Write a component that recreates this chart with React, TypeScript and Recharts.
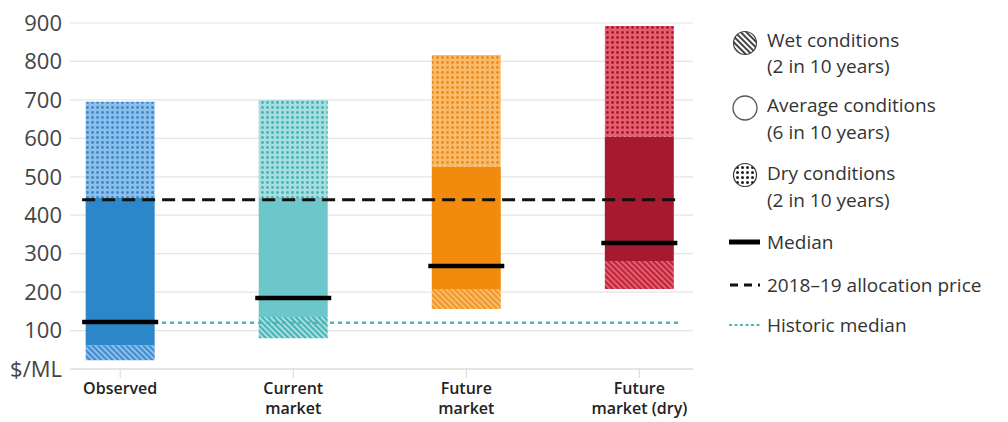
import React from "react";
import {
  ComposedChart,
  Bar,
  Cell,
  XAxis,
  YAxis,
  CartesianGrid,
  Scatter,
  ReferenceLine,
} from "recharts";

// ---------- data ----------
const categoryLines: string[][] = [
  ["Observed"],
  ["Current", "market"],
  ["Future", "market"],
  ["Future", "market (dry)"],
];
const lowValues = [23, 80, 156, 208]; // bottom of wet range
const wetTopValues = [62, 135, 208, 281]; // wet / average boundary
const avgTopValues = [445, 445, 526, 604]; // average / dry boundary
const highValues = [695, 700, 817, 892]; // top of dry range
const medianValues = [122, 185, 268, 328];
const allocationPrice = 440;
const historicMedian = 120;
const yTicks = [0, 100, 200, 300, 400, 500, 600, 700, 800, 900];

// ---------- styles ----------
const solidColors = ["#2B87C8", "#6DC6CA", "#F28A0E", "#A6192F"];
const lightColors = ["#8DBFEB", "#A9DEE1", "#F9BC6C", "#E4606F"];
const dotColors = ["#3A88CC", "#43B3B8", "#EE8A1A", "#A8172E"];
const stripeColors = ["#3F8CD0", "#45B3B8", "#F29626", "#C0243C"];
const FONT = "'Open Sans', 'Noto Sans', sans-serif";

const data = categoryLines.map((_, i) => ({
  idx: i,
  base: lowValues[i],
  wet: wetTopValues[i] - lowValues[i],
  avg: avgTopValues[i] - wetTopValues[i],
  dry: highValues[i] - avgTopValues[i],
  median: medianValues[i],
}));

const lineStart = 0 - 0.22;
const lineEnd = categoryLines.length - 1 + 0.23;

const Patterns = () => (
  <svg width={0} height={0} style={{ position: "absolute" }}>
    <defs>
      {solidColors.map((_, i) => (
        <pattern
          key={"h" + i}
          id={"hatch-" + i}
          patternUnits="userSpaceOnUse"
          width={4}
          height={4}
          patternTransform="rotate(-45)"
        >
          <rect width={4} height={4} fill={lightColors[i]} />
          <rect width={2} height={4} fill={stripeColors[i]} />
        </pattern>
      ))}
      {solidColors.map((_, i) => (
        <pattern
          key={"d" + i}
          id={"dots-" + i}
          patternUnits="userSpaceOnUse"
          width={5}
          height={5}
        >
          <rect width={5} height={5} fill={lightColors[i]} />
          <circle cx={2.5} cy={2.5} r={1.4} fill={dotColors[i]} />
        </pattern>
      ))}
      <pattern id="legend-hatch" patternUnits="userSpaceOnUse" width={4} height={4} patternTransform="rotate(-45)">
        <rect width={4} height={4} fill="#fff" />
        <rect width={2} height={4} fill="#444" />
      </pattern>
      <pattern id="legend-dots" patternUnits="userSpaceOnUse" width={5} height={5}>
        <rect width={5} height={5} fill="#fff" />
        <circle cx={2.5} cy={2.5} r={1.5} fill="#222" />
      </pattern>
    </defs>
  </svg>
);

const XTick = (props: any) => {
  const { x, y, payload } = props;
  const lines = categoryLines[payload.value] || [];
  return (
    <g>
      {lines.map((ln, k) => (
        <text
          key={k}
          x={x}
          y={y + 9 + k * 20}
          textAnchor="middle"
          dominantBaseline="central"
          fontFamily={FONT}
          fontSize={16}
          fontWeight={600}
          fill="#222"
        >
          {ln}
        </text>
      ))}
    </g>
  );
};

const MedianShape = (props: any) => {
  const { cx, cy } = props;
  return <line x1={cx - 38} x2={cx + 38} y1={cy} y2={cy} stroke="#000" strokeWidth={4.5} />;
};

const legendText = {
  fontFamily: FONT,
  fontSize: 19,
  fill: "#333",
  dominantBaseline: "central" as const,
};

const LegendSvg = () => (
  <svg
    width={1008}
    height={422}
    style={{ position: "absolute", left: 0, top: 0, pointerEvents: "none" }}
  >
    <circle cx={745} cy={43} r={11.5} fill="url(#legend-hatch)" stroke="#444" strokeWidth={1.2} />
    <text x={767} y={40} {...legendText}>Wet conditions</text>
    <text x={767} y={66} {...legendText}>(2 in 10 years)</text>

    <circle cx={745} cy={108} r={12} fill="#fff" stroke="#555" strokeWidth={1.3} />
    <text x={767} y={105} {...legendText}>Average conditions</text>
    <text x={767} y={132} {...legendText}>(6 in 10 years)</text>

    <circle cx={745} cy={175} r={11.5} fill="url(#legend-dots)" stroke="#333" strokeWidth={1.2} />
    <text x={767} y={173} {...legendText}>Dry conditions</text>
    <text x={767} y={200} {...legendText}>(2 in 10 years)</text>

    <line x1={729} x2={760} y1={242} y2={242} stroke="#000" strokeWidth={5} />
    <text x={767} y={242} {...legendText}>Median</text>

    <line x1={730} x2={760} y1={285} y2={285} stroke="#111" strokeWidth={3} strokeDasharray="8 6" />
    <text x={767} y={285} {...legendText}>2018–19 allocation price</text>

    <line x1={729} x2={760} y1={325} y2={325} stroke="#4DB8B8" strokeWidth={2} strokeDasharray="3 2.5" />
    <text x={767} y={325} {...legendText}>Historic median</text>
  </svg>
);

export default function App() {
  return (
    <div style={{ position: "absolute", left: 0, top: 0, width: 1008, height: 422, background: "#fff" }}>
      <Patterns />
      <ComposedChart
        width={1008}
        height={422}
        data={data}
        margin={{ top: 23, right: 315, bottom: 0, left: 0 }}
      >
        <CartesianGrid horizontal vertical={false} stroke="#E4E4E4" strokeWidth={1.2} />
        <XAxis
          dataKey="idx"
          type="number"
          domain={[-0.29, 3.31]}
          ticks={[0, 1, 2, 3]}
          allowDataOverflow
          height={53}
          tickSize={9}
          tickMargin={1}
          axisLine={{ stroke: "#D8D8D8" }}
          tickLine={{ stroke: "#D8D8D8" }}
          tick={<XTick />}
          interval={0}
        />
        <YAxis
          type="number"
          domain={[0, 900]}
          ticks={yTicks}
          width={70}
          axisLine={false}
          tickLine={false}
          tick={{ fontFamily: FONT, fontSize: 22, fill: "#444" }}
          tickFormatter={(v: number) => (v === 0 ? "$/ML" : String(v))}
          interval={0}
        />
        <Bar dataKey="base" stackId="a" fill="transparent" barSize={69} isAnimationActive={false} />
        <Bar dataKey="wet" stackId="a" barSize={69} isAnimationActive={false}>
          {data.map((_, i) => (
            <Cell key={i} fill={`url(#hatch-${i})`} />
          ))}
        </Bar>
        <Bar dataKey="avg" stackId="a" barSize={69} isAnimationActive={false}>
          {data.map((_, i) => (
            <Cell key={i} fill={solidColors[i]} />
          ))}
        </Bar>
        <Bar dataKey="dry" stackId="a" barSize={69} isAnimationActive={false}>
          {data.map((_, i) => (
            <Cell key={i} fill={`url(#dots-${i})`} />
          ))}
        </Bar>
        <ReferenceLine
          segment={[
            { x: lineStart, y: allocationPrice },
            { x: lineEnd, y: allocationPrice },
          ]}
          stroke="#111"
          strokeWidth={3}
          strokeDasharray="13 7"
        />
        <Scatter dataKey="median" shape={<MedianShape />} isAnimationActive={false} />
        <ReferenceLine
          segment={[
            { x: lineStart, y: historicMedian },
            { x: lineEnd, y: historicMedian },
          ]}
          stroke="#4DB8B8"
          strokeWidth={2.5}
          strokeDasharray="4 4"
        />
      </ComposedChart>
      <LegendSvg />
    </div>
  );
}
